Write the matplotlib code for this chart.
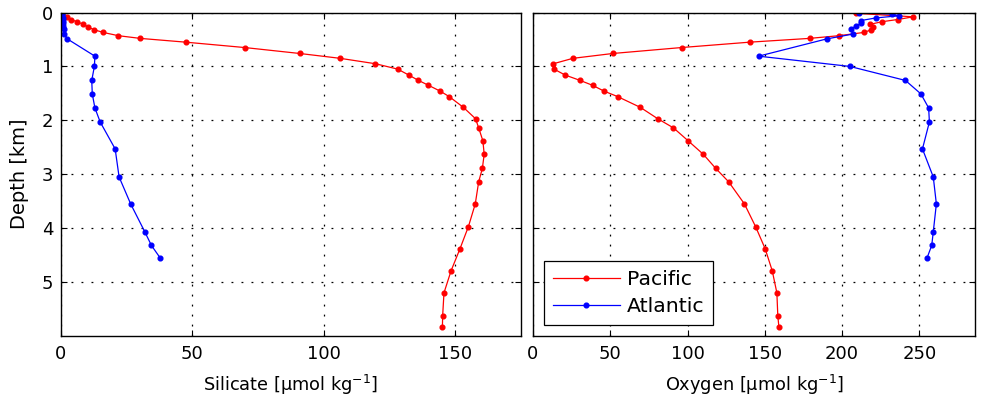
import matplotlib
matplotlib.use("Agg")
import matplotlib.pyplot as plt

plt.rcParams['font.family'] = ['DejaVu Sans']
plt.rcParams['mathtext.fontset'] = 'dejavusans'

# ---- data ----
pac_depth = [0.015, 0.08, 0.13, 0.17, 0.22, 0.27, 0.32, 0.37, 0.43, 0.48, 0.55, 0.65,
             0.76, 0.85, 0.95, 1.05, 1.16, 1.26, 1.35, 1.46, 1.56, 1.76, 1.97, 2.14,
             2.38, 2.63, 2.89, 3.14, 3.55, 3.97, 4.38, 4.79, 5.2, 5.62, 5.83]
pac_silicate = [0.3, 2.2, 3.8, 6.0, 8.5, 10.4, 12.6, 16.1, 21.8, 30.1, 47.4, 69.9,
                90.8, 106.2, 119.6, 128.1, 132.3, 136.0, 139.8, 144.3, 147.7, 153.1, 157.7, 158.9,
                160.5, 161.0, 160.3, 158.9, 157.6, 155.0, 151.8, 148.4, 145.7, 145.2, 145.1]
pac_oxygen = [209, 246, 236, 226, 218, 220, 219, 214, 198, 179, 140.3, 96.1,
              51.7, 25.8, 13.2, 13.6, 20.8, 30.5, 38.5, 46.1, 54.8, 69.5, 80.7, 90.9,
              100.4, 110.2, 118.2, 126.6, 136.8, 144.0, 150.2, 154.8, 157.8, 158.4, 159.1]

atl_depth = [0.0, 0.03, 0.06, 0.10, 0.15, 0.20, 0.25, 0.30, 0.40, 0.49, 0.81, 1.0,
             1.26, 1.51, 1.77, 2.03, 2.53, 3.05, 3.55, 4.07, 4.32, 4.55]
atl_silicate = [0.3, 0.4, 0.5, 0.6, 0.7, 0.8, 0.9, 1.0, 1.3, 2.4, 12.9, 12.7,
                11.7, 11.9, 12.9, 14.9, 20.6, 22.1, 26.5, 31.9, 34.4, 37.7]
atl_oxygen = [211, 232, 237, 222, 212, 212, 209, 206, 207, 190, 146, 205,
              241, 251, 256, 256.5, 252, 259, 261, 259, 258, 255]

depth_ticks = [0, 1, 2, 3, 4, 5]
sil_ticks = [0, 50, 100, 150]
oxy_ticks = [0, 50, 100, 150, 200, 250]

W, H = 985, 407
fig = plt.figure(figsize=(W / 100, H / 100), dpi=100)
ax1 = fig.add_axes([61 / W, 1 - 336 / H, 460 / W, 323.5 / H])
ax2 = fig.add_axes([533 / W, 1 - 336 / H, 442 / W, 323.5 / H])

style = dict(linewidth=0.9, marker='o', markersize=3.4)

for ax, pv, av, xl, ticks, lab in [
        (ax1, pac_silicate, atl_silicate, (0, 175), sil_ticks, 'Silicate [μmol kg$^{-1}$]'),
        (ax2, pac_oxygen, atl_oxygen, (0, 286), oxy_ticks, 'Oxygen [μmol kg$^{-1}$]')]:
    ax.plot(pv, pac_depth, color=(1, 0, 0), label='Pacific', **style)
    ax.plot(av, atl_depth, color=(0, 0, 1), label='Atlantic', **style)
    ax.set_xlim(*xl)
    ax.set_ylim(6.0, 0)
    ax.set_xticks(ticks)
    ax.set_yticks(depth_ticks)
    ax.grid(True, color='black', linewidth=0.9, linestyle=(0, (1.5, 6.5)))
    ax.tick_params(direction='in', top=True, right=True, length=4, width=0.8,
                   labelsize=13)
    ax.tick_params(axis='x', pad=6.5)
    ax.tick_params(axis='y', pad=5.5)
    for s in ax.spines.values():
        s.set_linewidth(1.0)
    ax.set_xlabel(lab, fontsize=12.8, labelpad=7)

ax1.set_ylabel('Depth [km]', fontsize=14, labelpad=9)
ax2.tick_params(labelleft=False)

leg = ax2.legend(loc='lower left', bbox_to_anchor=(0.025, 0.034), borderaxespad=0,
                 fontsize=14.7, fancybox=False, edgecolor='black', framealpha=1,
                 handlelength=3.3, handletextpad=0.35, labelspacing=0.42, borderpad=0.42)
leg.get_frame().set_linewidth(0.9)

fig.savefig('out.png', dpi=100)
